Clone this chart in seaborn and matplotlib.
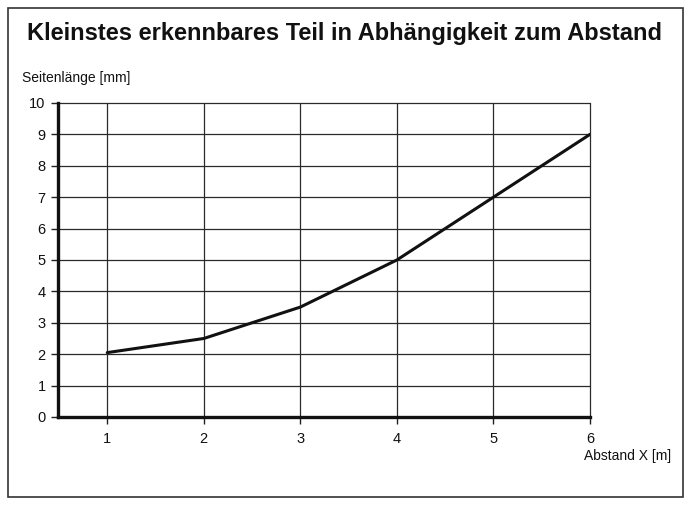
import matplotlib
matplotlib.use("Agg")
import matplotlib.pyplot as plt
import seaborn as sns
import pandas as pd
from matplotlib.patches import Rectangle

distance_m = [1, 2, 3, 4, 5, 6]
side_mm = [2.05, 2.5, 3.5, 5.0, 7.0, 9.0]
x_ticks = [1, 2, 3, 4, 5, 6]
y_ticks = list(range(0, 11))

sns.set_theme(style="white")
plt.rcParams['font.family'] = ['Liberation Sans', 'DejaVu Sans']

fig = plt.figure(figsize=(6.89, 5.05), dpi=100)
ax = fig.add_axes([0.0842, 0.1743, 0.7721, 0.6218])

df = pd.DataFrame({"x": distance_m, "y": side_mm})
sns.lineplot(data=df, x="x", y="y", ax=ax, color="#111111", linewidth=2.2)

ax.set_xlim(0.49, 6.0)
ax.set_ylim(0, 10)
ax.set_xticks(x_ticks)
ax.set_yticks(y_ticks)
ax.grid(True, color="#2a2a2a", linewidth=0.9)
for gl in ax.get_xgridlines() + ax.get_ygridlines():
    gl.set_clip_on(False)
ax.set_axisbelow(True)
for s in ["top", "right"]:
    ax.spines[s].set_visible(False)
for s in ["left", "bottom"]:
    ax.spines[s].set_color("#111111")
    ax.spines[s].set_linewidth(2.4)
ax.tick_params(axis="both", direction="out", length=5, width=1, color="#222222",
               labelsize=10.5, labelcolor="#111111", pad=4, bottom=True, left=True)
ax.tick_params(axis="x", pad=6)
ax.set_xlabel("")
ax.set_ylabel("")

fig.text(0.5, 0.934, "Kleinstes erkennbares Teil in Abhängigkeit zum Abstand",
         ha="center", va="center", fontsize=17, fontweight="bold", color="#111111")
fig.text(22 / 689, 1 - 78 / 505, "Seitenlänge [mm]", ha="left", va="center",
         fontsize=10, color="#111111")
fig.text(671 / 689, 1 - 456 / 505, "Abstand X [m]", ha="right", va="center",
         fontsize=10, color="#111111")

fig.patches.append(Rectangle((8 / 689, 8 / 505), 675 / 689, 489 / 505,
                             transform=fig.transFigure, fill=False,
                             edgecolor="#333333", linewidth=1.2))

fig.savefig("out.png", dpi=100)
